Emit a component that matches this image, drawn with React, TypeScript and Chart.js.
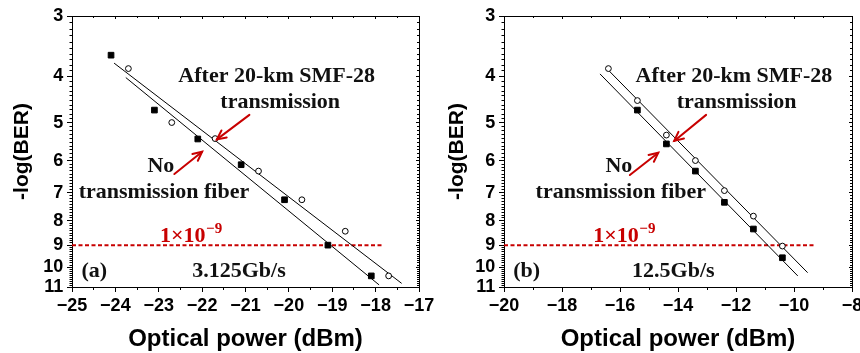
import React, { useEffect, useRef } from 'react';
import { Chart, registerables } from 'chart.js';
Chart.register(...registerables);

// ---------- shared axis values ----------
const yTickLabels = [3, 4, 5, 6, 7, 8, 9, 10, 11];
const berThreshold = 9;

// ---------- panel (a) 3.125 Gb/s ----------
const xTicksA = [-25, -24, -23, -22, -21, -20, -19, -18, -17];
const powerNoFiberA = [-24.1, -23.1, -22.1, -21.1, -20.1, -19.1, -18.1];
const berNoFiberA = [3.62, 4.71, 5.41, 6.12, 7.24, 9.0, 10.43];
const powerFiberA = [-23.7, -22.7, -21.7, -20.7, -19.7, -18.7, -17.7];
const berFiberA = [3.86, 5.0, 5.4, 6.31, 7.24, 8.42, 10.43];
const fitNoFiberPowerA = [-23.76, -17.92];
const fitNoFiberBerA = [4.03, 10.89];
const fitFiberPowerA = [-24.03, -17.4];
const fitFiberBerA = [3.76, 10.81];
const thresholdPowerA = [-25, -17.83];

// ---------- panel (b) 12.5 Gb/s ----------
const xTicksB = [-20, -18, -16, -14, -12, -10, -8];
const powerNoFiberB = [-15.4, -14.4, -13.4, -12.4, -11.4, -10.4];
const berNoFiberB = [4.71, 5.54, 6.31, 7.33, 8.33, 9.56];
const powerFiberB = [-16.4, -15.4, -14.4, -13.4, -12.4, -11.4, -10.4];
const berFiberB = [3.86, 4.5, 5.31, 6.0, 6.93, 7.83, 9.04];
const fitNoFiberPowerB = [-16.69, -9.87];
const fitNoFiberBerB = [3.96, 10.43];
const fitFiberPowerB = [-16.4, -9.53];
const fitFiberBerB = [3.89, 10.27];
const thresholdPowerB = [-20, -9.28];

// ---------- annotations (data coordinates) ----------
const textsA = [
  { t: 'After 20-km SMF-28', x: -20.28, y: 4.11, align: 'center' },
  { t: 'transmission', x: -20.2, y: 4.66, align: 'center' },
  { t: 'No', x: -22.95, y: 6.33, align: 'center' },
  { t: 'transmission fiber', x: -22.88, y: 7.17, align: 'center' },
  { t: '3.125Gb/s', x: -21.15, y: 10.46, align: 'center' },
  { t: '(a)', x: -24.78, y: 10.46, align: 'left' },
];
const thresholdLabelA = { t: '1×10', sup: '−9', x: -22.97, y: 8.85 };
const arrowsA = [
  { x1: -20.91, y1: 4.82, x2: -21.66, y2: 5.42 },
  { x1: -22.64, y1: 6.4, x2: -22.0, y2: 5.75 },
];

const textsB = [
  { t: 'After 20-km SMF-28', x: -12.07, y: 4.11, align: 'center' },
  { t: 'transmission', x: -11.98, y: 4.66, align: 'center' },
  { t: 'No', x: -16.04, y: 6.33, align: 'center' },
  { t: 'transmission fiber', x: -15.97, y: 7.17, align: 'center' },
  { t: '12.5Gb/s', x: -14.16, y: 10.46, align: 'center' },
  { t: '(b)', x: -19.68, y: 10.46, align: 'left' },
];
const thresholdLabelB = { t: '1×10', sup: '−9', x: -16.92, y: 8.85 };
const arrowsB = [
  { x1: -13.03, y1: 4.82, x2: -14.13, y2: 5.46 },
  { x1: -15.66, y1: 6.43, x2: -14.68, y2: 5.78 },
];

const RED = '#c80000';
const BLACK = '#000';
const SANS = "'Liberation Sans', Arial, sans-serif";
const SERIF = "'Liberation Serif', 'Times New Roman', serif";

const pts = (xs: number[], ys: number[]) => xs.map((x, i) => ({ x, y: ys[i] }));

const panelA = {
  xTicks: xTicksA, minorStep: 0.5,
  noFiber: pts(powerNoFiberA, berNoFiberA), fiber: pts(powerFiberA, berFiberA),
  fitNo: pts(fitNoFiberPowerA, fitNoFiberBerA), fitFi: pts(fitFiberPowerA, fitFiberBerA),
  thr: thresholdPowerA.map((x) => ({ x, y: berThreshold })),
  texts: textsA, thrLabel: thresholdLabelA, arrows: arrowsA,
  canvasW: 445, yWidth: 72, padRight: 26, titlePad: 12,
};
const panelB = {
  xTicks: xTicksB, minorStep: 1,
  noFiber: pts(powerNoFiberB, berNoFiberB), fiber: pts(powerFiberB, berFiberB),
  fitNo: pts(fitNoFiberPowerB, fitNoFiberBerB), fitFi: pts(fitFiberPowerB, fitFiberBerB),
  thr: thresholdPowerB.map((x) => ({ x, y: berThreshold })),
  texts: textsB, thrLabel: thresholdLabelB, arrows: arrowsB,
  canvasW: 430, yWidth: 74, padRight: 8, titlePad: 17,
};

const fmt = (v: number) => (v < 0 ? '\u2212' + Math.abs(v) : String(v));

function makeAnnot(panel: any) {
  return {
    id: 'annot',
    afterDraw(chart: any) {
      const { ctx } = chart;
      const xs = chart.scales.x;
      const ys = chart.scales.y;
      ctx.save();
      // arrows
      ctx.strokeStyle = RED;
      ctx.lineWidth = 2;
      ctx.lineCap = 'round';
      for (const a of panel.arrows) {
        const x1 = xs.getPixelForValue(a.x1), y1 = ys.getPixelForValue(a.y1);
        const x2 = xs.getPixelForValue(a.x2), y2 = ys.getPixelForValue(a.y2);
        ctx.beginPath(); ctx.moveTo(x1, y1); ctx.lineTo(x2, y2); ctx.stroke();
        const ang = Math.atan2(y2 - y1, x2 - x1);
        const L = 10, h = 0.45;
        ctx.beginPath();
        ctx.moveTo(x2 - L * Math.cos(ang - h), y2 - L * Math.sin(ang - h));
        ctx.lineTo(x2, y2);
        ctx.lineTo(x2 - L * Math.cos(ang + h), y2 - L * Math.sin(ang + h));
        ctx.stroke();
      }
      // texts
      ctx.fillStyle = '#111';
      ctx.textBaseline = 'alphabetic';
      ctx.font = `bold 22px ${SERIF}`;
      for (const t of panel.texts) {
        ctx.textAlign = t.align;
        ctx.fillText(t.t, xs.getPixelForValue(t.x), ys.getPixelForValue(t.y));
      }
      // threshold label
      const tl = panel.thrLabel;
      const lx = xs.getPixelForValue(tl.x), ly = ys.getPixelForValue(tl.y);
      ctx.fillStyle = RED;
      ctx.textAlign = 'left';
      ctx.font = `bold 22px ${SERIF}`;
      ctx.fillText(tl.t, lx, ly);
      const w = ctx.measureText(tl.t).width;
      ctx.font = `bold 15px ${SERIF}`;
      ctx.fillText(tl.sup, lx + w + 0.5, ly - 9);
      ctx.restore();
    },
  };
}

function makeChart(canvas: HTMLCanvasElement, p: any) {
  const xMin = p.xTicks[0];
  const xMax = p.xTicks[p.xTicks.length - 1];
  const yMin = yTickLabels[0];
  const yMax = yTickLabels[yTickLabels.length - 1];
  const xMinor: number[] = [];
  for (let v = xMin; v <= xMax + 1e-9; v += p.minorStep) xMinor.push(Math.round(v * 100) / 100);
  const yMinor: number[] = [];
  for (let k = yMin * 10; k <= yMax * 10; k++) yMinor.push(k / 10);

  const fitSize = (h?: number, w?: number) => (s: any) => {
    if (h !== undefined) s.height = h;
    if (w !== undefined) s.width = w;
    s.paddingLeft = 0; s.paddingRight = 0; s.paddingTop = 0; s.paddingBottom = 0;
  };
  const setTicks = (vals: number[]) => (s: any) => { s.ticks = vals.map((v) => ({ value: v })); };
  const hidden = { display: false };
  const gridOf = (len: number) => ({ drawOnChartArea: false, drawTicks: true, tickLength: len, tickColor: BLACK, tickWidth: 1, color: BLACK });
  const tickFont = { family: SANS, size: 18, weight: 'bold' as const, lineHeight: 1.2 };

  const xBase = { type: 'linear' as const, min: xMin, max: xMax, bounds: 'data' as const };
  const yBase = { type: 'logarithmic' as const, min: yMin, max: yMax, reverse: true, bounds: 'data' as const };

  return new Chart(canvas, {
    type: 'line',
    data: {
      datasets: [
        { data: p.noFiber, showLine: false, pointStyle: 'rect', pointRadius: 4, pointBorderWidth: 1,
          pointBackgroundColor: BLACK, pointBorderColor: BLACK, borderColor: BLACK },
        { data: p.fiber, showLine: false, pointStyle: 'circle', pointRadius: 2.9, pointBorderWidth: 1,
          pointBackgroundColor: '#fff', pointBorderColor: BLACK, borderColor: BLACK },
        { data: p.fitNo, pointRadius: 0, borderColor: BLACK, borderWidth: 1, fill: false },
        { data: p.fitFi, pointRadius: 0, borderColor: BLACK, borderWidth: 1, fill: false },
        { data: p.thr, pointRadius: 0, borderColor: RED, borderWidth: 2, borderDash: [4, 2.5], fill: false },
      ],
    },
    options: {
      responsive: false,
      animation: false,
      devicePixelRatio: 1,
      events: [],
      layout: { padding: { left: 0, top: 16, right: p.padRight, bottom: 0 } },
      plugins: { legend: { display: false }, tooltip: { enabled: false } },
      scales: {
        x: {
          ...xBase, position: 'bottom', weight: 2,
          afterBuildTicks: setTicks(p.xTicks), afterFit: fitSize(66),
          grid: gridOf(5), border: { display: true, color: BLACK, width: 1 },
          ticks: { font: tickFont, color: BLACK, padding: 3, maxRotation: 0, autoSkip: false, callback: (v: any) => fmt(Number(v)) },
          title: { display: true, text: 'Optical power (dBm)', color: BLACK,
            font: { family: SANS, size: 24, weight: 'bold', lineHeight: 1 }, padding: { top: 0, bottom: 2 } },
        },
        xm: {
          ...xBase, position: 'bottom', weight: 1,
          afterBuildTicks: setTicks(xMinor), afterFit: fitSize(0),
          grid: gridOf(3), border: hidden, ticks: { display: false, autoSkip: false },
        },
        xt: {
          ...xBase, position: 'top', weight: 2,
          afterBuildTicks: setTicks(p.xTicks), afterFit: fitSize(0),
          grid: gridOf(-3), border: { display: true, color: BLACK, width: 1 }, ticks: { display: false, autoSkip: false },
        },
        xtm: {
          ...xBase, position: 'top', weight: 1,
          afterBuildTicks: setTicks(xMinor), afterFit: fitSize(0),
          grid: gridOf(-2), border: hidden, ticks: { display: false, autoSkip: false },
        },
        y: {
          ...yBase, position: 'left', weight: 2,
          afterBuildTicks: setTicks(yTickLabels), afterFit: fitSize(undefined, p.yWidth),
          grid: gridOf(5), border: { display: true, color: BLACK, width: 1 },
          ticks: { font: tickFont, color: BLACK, padding: 3.7, autoSkip: false, callback: (v: any) => String(v) },
          title: { display: true, text: '-log(BER)', color: BLACK,
            font: { family: SANS, size: 21, weight: 'bold', lineHeight: 1 }, padding: { top: p.titlePad, bottom: 0 } },
        },
        ym: {
          ...yBase, position: 'left', weight: 1,
          afterBuildTicks: setTicks(yMinor), afterFit: fitSize(undefined, 0),
          grid: gridOf(2.5), border: hidden, ticks: { display: false, autoSkip: false, callback: () => '' },
        },
        yr: {
          ...yBase, position: 'right', weight: 2,
          afterBuildTicks: setTicks(yTickLabels), afterFit: fitSize(undefined, 0),
          grid: gridOf(-3), border: { display: true, color: BLACK, width: 1 }, ticks: { display: false, autoSkip: false, callback: () => '' },
        },
        yrm: {
          ...yBase, position: 'right', weight: 1,
          afterBuildTicks: setTicks(yMinor), afterFit: fitSize(undefined, 0),
          grid: gridOf(-2), border: hidden, ticks: { display: false, autoSkip: false, callback: () => '' },
        },
      },
    } as any,
    plugins: [makeAnnot(p)],
  });
}

function Panel({ panel, left }: { panel: any; left: number }) {
  const ref = useRef<HTMLCanvasElement>(null);
  useEffect(() => {
    const chart = makeChart(ref.current as HTMLCanvasElement, panel);
    return () => chart.destroy();
  }, [panel]);
  return (
    <canvas
      ref={ref}
      width={panel.canvasW}
      height={353}
      style={{ position: 'absolute', left, top: 0, width: panel.canvasW, height: 353 }}
    />
  );
}

export default function App() {
  return (
    <div style={{ position: 'absolute', left: 0, top: 0, width: 860, height: 353, background: '#fff', overflow: 'hidden' }}>
      <Panel panel={panelA} left={0} />
      <Panel panel={panelB} left={430} />
    </div>
  );
}
